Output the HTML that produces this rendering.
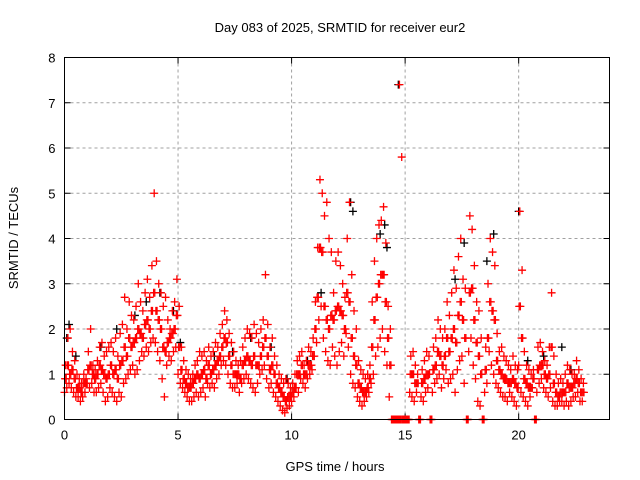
<!DOCTYPE html>
<html><head><meta charset="utf-8"><style>
body{margin:0;background:#fff;}
svg{display:block;font-family:"Liberation Sans",sans-serif;}
</style></head><body>
<svg id="chart" width="640" height="480" viewBox="0 0 640 480">
<rect x="0" y="0" width="640" height="480" fill="#fff"/>
<text x="340" y="32" font-size="13" text-anchor="middle" fill="#000">Day 083 of 2025, SRMTID for receiver eur2</text>
<text transform="translate(18,238) rotate(-90)" font-size="13" text-anchor="middle" fill="#000">SRMTID / TECUs</text>
<text x="335" y="471" font-size="13" text-anchor="middle" fill="#000">GPS time / hours</text>
<g id="grid"></g>
<g id="ticks"></g>
<g id="black-pts"></g>
<g id="red-pts"></g>
<rect x="64.5" y="57.5" width="545" height="362" fill="none" stroke="#000" stroke-width="1"/>
</svg>
<script>
const xTicks=[0,5,10,15,20];
const yTicks=[0,1,2,3,4,5,6,7,8];
const xMax=24, yMax=8;
const step=0.1;
const redHi=[1.2,1.8,2.0,1.5,1.3,1.0,0.9,0.8,1.0,0.9,
1.5,2.0,1.2,1.1,1.3,1.6,1.7,1.4,1.5,1.6,
1.7,1.5,1.8,1.4,1.9,2.1,2.7,2.0,2.6,2.3,
2.2,2.5,3.0,2.6,2.4,2.8,3.1,2.7,3.4,5.0,
3.5,3.0,2.8,2.5,2.7,2.2,2.0,2.4,2.6,3.1,
2.5,1.6,1.3,1.1,1.0,0.9,1.0,1.2,1.3,1.5,
1.4,1.5,1.3,1.6,1.4,1.5,1.7,1.6,1.9,2.1,
2.4,2.2,1.9,1.7,1.5,1.3,1.2,1.3,1.6,1.8,
2.0,1.9,1.8,2.1,1.9,1.7,2.0,2.2,3.2,2.1,
1.6,1.8,1.4,1.2,1.0,0.9,0.8,0.9,0.8,0.7,
0.8,1.0,1.3,1.4,1.5,1.2,1.3,1.6,1.5,1.8,
2.6,3.8,5.3,5.0,4.5,4.8,4.0,3.7,2.8,3.5,
3.7,3.4,3.0,2.7,4.0,4.8,3.2,2.4,2.0,1.3,
1.1,1.0,0.9,1.0,1.2,2.6,3.5,4.0,4.3,4.4,
4.7,3.9,2.5,2.0,0,0,0,7.4,5.8,0,
0,0,1.4,1.5,1.2,1.0,0,1.1,1.3,1.5,
1.4,0,1.6,1.8,2.2,2.0,1.8,2.0,2.6,2.3,
2.8,3.3,2.9,3.6,4.0,3.1,2.9,0,4.5,4.2,
3.4,2.6,2.4,1.8,0,1.6,3.0,4.0,3.7,3.4,
1.9,1.5,1.6,1.4,1.3,1.2,1.1,1.4,1.2,1.1,
4.6,3.3,1.5,1.2,1.1,1.0,1.1,0,1.6,1.7,
1.5,1.3,1.2,1.6,2.8,1.4,1.0,0.8,0.9,0.8,
1.0,1.2,1.1,1.0,1.0,1.3,1.1,0.9,0.8];
const redMid=[0.9,1.2,1.0,1.1,0.9,0.7,0.7,0.6,0.8,0.8,
1.1,1.2,1.0,0.9,1.0,1.2,1.1,1.0,0.9,1.0,
1.2,1.0,1.1,0.9,1.2,1.3,1.6,1.4,1.8,1.6,
1.7,1.8,2.0,1.9,1.8,2.1,2.2,2.0,2.4,2.8,
2.4,2.2,2.0,1.6,1.5,1.7,1.8,1.9,2.0,2.3,
1.6,1.1,0.9,0.8,0.7,0.7,0.8,0.9,1.0,0.9,
1.0,1.1,0.9,1.2,1.0,1.1,1.2,1.3,1.4,1.6,
1.8,1.7,1.4,1.2,1.0,1.0,1.0,0.9,1.2,1.3,
1.4,1.3,1.2,1.4,1.2,1.2,1.4,1.6,1.8,1.4,
1.1,1.2,1.0,0.8,0.7,0.6,0.5,0.4,0.5,0.5,
0.6,0.7,1.0,1.0,1.2,1.0,1.0,1.2,1.2,1.4,
2.0,2.7,3.8,3.7,2.5,2.2,2.0,2.3,2.2,2.4,
2.5,2.4,2.3,2.0,2.8,2.6,1.8,1.4,1.2,0.8,
0.7,0.6,0.6,0.7,0.9,1.6,2.2,2.7,3.0,3.2,
3.2,2.6,1.8,1.2,0,0,0,0,0,0,
0,0,1.0,1.0,0.8,0.8,0,0.8,0.9,1.0,
1.0,0,1.1,1.2,1.5,1.4,1.2,1.4,1.8,1.5,
1.8,2.0,1.7,2.3,2.6,2.2,1.8,0,2.8,2.9,
2.2,1.7,1.4,1.0,0,1.1,1.8,2.6,2.4,2.2,
1.3,1.1,1.0,0.9,0.9,0.8,0.8,0.9,0.8,0.7,
2.5,1.8,0.9,0.8,0.7,0.7,0.9,0,1.1,1.2,
1.2,1.0,0.9,1.0,1.6,0.8,0.6,0.5,0.6,0.6,
0.6,0.8,0.7,0.7,0.8,0.9,0.8,0.6,0.6];
const redLo=[0.6,0.7,0.8,0.7,0.6,0.5,0.5,0.4,0.5,0.6,
0.8,0.7,0.8,0.6,0.6,0.7,0.8,0.6,0.4,0.5,
0.7,0.6,0.5,0.4,0.6,0.5,0.8,0.9,1.0,1.1,
1.2,1.0,1.1,1.3,1.5,1.4,1.6,1.5,1.7,1.8,
1.7,1.5,1.3,0.9,0.5,1.2,1.4,1.3,1.5,1.6,
1.0,0.8,0.7,0.6,0.5,0.4,0.4,0.5,0.6,0.5,
0.6,0.7,0.5,0.8,0.7,0.8,0.7,0.9,1.0,1.2,
1.3,1.2,1.0,0.8,0.7,0.7,0.8,0.6,0.8,0.9,
1.0,0.9,0.8,0.7,0.6,0.8,1.0,1.1,1.2,0.9,
0.7,0.8,0.6,0.5,0.4,0.3,0.2,0.15,0.25,0.3,
0.4,0.5,0.7,0.6,0.9,0.8,0.7,0.9,1.0,1.1,
1.4,1.7,2.2,2.5,1.8,1.5,1.3,1.2,1.6,1.4,
1.2,1.5,1.7,1.4,1.9,1.6,1.0,0.8,0.7,0.5,
0.4,0.3,0.4,0.5,0.6,0.8,1.0,1.4,1.6,1.8,
2.0,1.5,1.2,0.5,0,0,0,0,0,0,
0,0,0.6,0.5,0.4,0.6,0,0.5,0.4,0.6,
0.7,0,0.6,0.8,0.9,1.0,0.7,0.9,1.1,0.8,
0.9,1.0,0.6,1.1,1.3,1.4,0.8,0,1.5,1.8,
1.2,0.9,0.4,0.3,0,0.6,0.8,1.5,1.2,1.0,
0.8,0.7,0.6,0.5,0.5,0.4,0.6,0.5,0.4,0.3,
1.2,0.6,0.5,0.4,0.3,0.5,0.7,0,0.6,0.8,
0.9,0.7,0.6,0.5,0.7,0.4,0.3,0.3,0.4,0.4,
0.3,0.4,0.3,0.4,0.5,0.5,0.6,0.4,0.4];
const blackTimes=[0.1,0.2,0.5,1.6,2.3,3.1,3.6,4.2,4.8,5.1,6.6,7.4,8.2,9.1,9.8,10.7,11.3,12.6,12.7,13.9,14.1,14.2,14.7,17.2,17.6,18.6,18.9,20.0,20.4,21.1,21.9,22.3];
const blackVals=[1.8,2.1,1.4,1.6,2.0,2.3,2.6,2.8,2.4,1.7,1.4,1.5,1.8,1.6,0.9,1.3,2.8,4.8,4.6,4.1,4.3,3.8,7.4,3.1,3.9,3.5,4.1,4.6,1.3,1.4,1.6,1.1];

const svgNS="http://www.w3.org/2000/svg";
const L=64.5,R=609.5,T=57.5,B=419.5;
function xs(v){return L+(R-L)*v/xMax;}
function ys(v){return B-(B-T)*v/yMax;}
const grid=document.getElementById('grid'),ticks=document.getElementById('ticks');
function mk(tag,attrs,parent){const e=document.createElementNS(svgNS,tag);for(const k in attrs)e.setAttribute(k,attrs[k]);parent.appendChild(e);return e;}
yTicks.forEach(v=>{
  const y=ys(v);
  if(v>0&&v<yMax){const g=mk('line',{x1:L,x2:R,y1:y,y2:y,stroke:'#a0a0a0','stroke-dasharray':'3,3','stroke-width':1},grid);
  
  }
  const t1=mk('line',{x1:L,x2:L+6,y1:y,y2:y,stroke:'#000'},ticks);
  
  
  const t2=mk('line',{x1:R-6,x2:R,y1:y,y2:y,stroke:'#000'},ticks);
  
  
  const lb=mk('text',{x:L-9,y:y+5,'font-size':13,'text-anchor':'end',fill:'#000'},ticks);
  lb.textContent=v;
  
  
});
xTicks.forEach(v=>{
  const x=xs(v);
  if(v>0){const g=mk('line',{x1:x,x2:x,y1:T,y2:B,stroke:'#a0a0a0','stroke-dasharray':'3,3','stroke-width':1},grid);
  
  }
  const t1=mk('line',{x1:x,x2:x,y1:B,y2:B-6,stroke:'#000'},ticks);
  
  
  const t2=mk('line',{x1:x,x2:x,y1:T,y2:T+6,stroke:'#000'},ticks);
  
  
  const lb=mk('text',{x:x,y:B+20,'font-size':13,'text-anchor':'middle',fill:'#000'},ticks);
  lb.textContent=v;
  
  
});
function plus(t,v,color,parent,name){
  const x=xs(t),y=ys(v);
  const p=mk('path',{d:`M${x-4} ${y}H${x+4}M${x} ${y-4}V${y+4}`,stroke:color,'stroke-width':1.3,fill:'none'},parent);
  
  
}
const bg=document.getElementById('black-pts');
blackTimes.forEach((t,i)=>plus(t,blackVals[i],'#000',bg,'black-point'));
const rg=document.getElementById('red-pts');
[[redLo,0],[redMid,0.025],[redHi,0.05],[redMid,0.075]].forEach(([arr,off])=>{
  arr.forEach((v,i)=>plus(i*step+off,v,'#f00',rg,'red-point'));
});
</script>
</body></html>
